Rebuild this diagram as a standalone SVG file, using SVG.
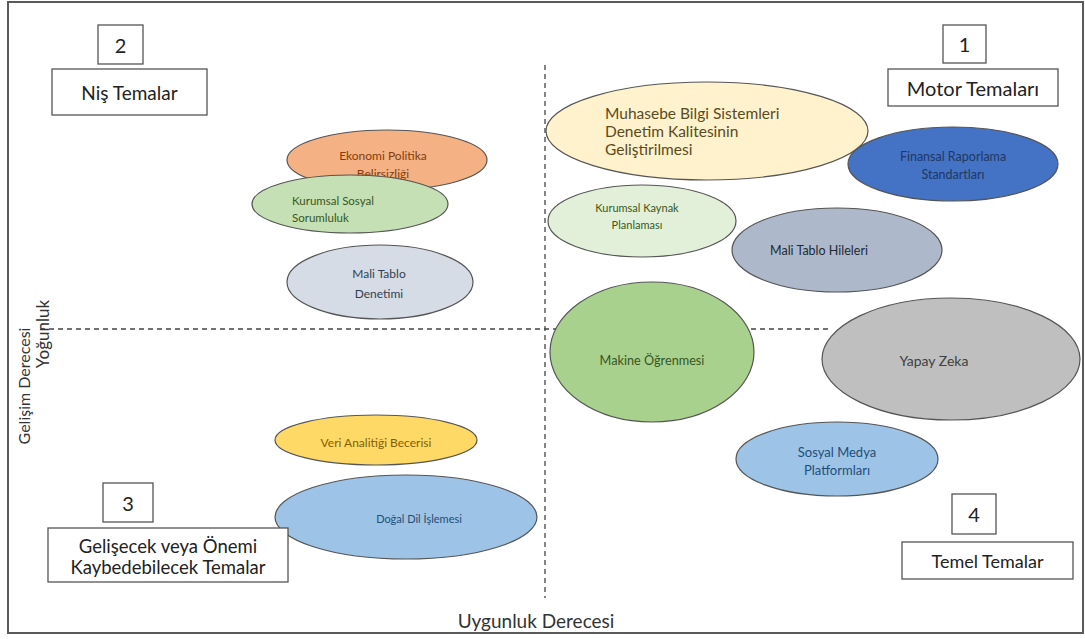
<svg xmlns="http://www.w3.org/2000/svg" width="1085" height="639" viewBox="0 0 1085 639">
<style>
.bg{fill:#ffffff}
.frame{fill:none;stroke:#5a5a5a;stroke-width:2}
.dash{fill:none;stroke:#444;stroke-width:1.3;stroke-dasharray:5 4}
.box{fill:#ffffff;stroke:#555;stroke-width:1.3}
.bt{font-family:Lato,"Liberation Sans",sans-serif;font-size:18.5px;fill:#222;text-anchor:middle;dominant-baseline:central}
.num{font-family:Lato,"Liberation Sans",sans-serif;font-size:20px;fill:#222;text-anchor:middle;dominant-baseline:central}
.el{stroke:#555;stroke-width:1.2}
.t{font-family:Lato,"Liberation Sans",sans-serif;font-size:12px;text-anchor:middle;dominant-baseline:central}
.l{text-anchor:start}
.ax{font-family:Lato,"Liberation Sans",sans-serif;font-size:16px;fill:#333;text-anchor:middle;dominant-baseline:central}
</style>
<rect class="bg" x="0" y="0" width="1085" height="639"/>
<rect class="frame" x="8" y="2" width="1075" height="631"/>
<g id="connectors">
<line class="dash" x1="545" y1="65" x2="545" y2="598"/>
<line class="dash" x1="40" y1="329" x2="830" y2="329"/>
</g>
<g id="q2">
<rect class="box" x="98" y="25" width="45" height="39"/>
<text class="num" x="120.5" y="45">2</text>
<rect class="box" x="52" y="69" width="155" height="46"/>
<text class="bt" x="129.5" y="92" style="font-size:19px">Niş Temalar</text>
</g>
<g id="q1">
<rect class="box" x="943" y="25" width="43" height="38"/>
<text class="num" x="964.5" y="44">1</text>
<rect class="box" x="888" y="69" width="170" height="37"/>
<text class="bt" x="973" y="88" style="font-size:20px">Motor Temaları</text>
</g>
<g id="q3">
<rect class="box" x="103" y="483" width="50" height="39"/>
<text class="num" x="128" y="503">3</text>
</g>
<g id="q4">
<rect class="box" x="952" y="494" width="44" height="40"/>
<text class="num" x="974" y="514">4</text>
<rect class="box" x="902" y="542" width="171" height="37"/>
<text class="bt" x="987.5" y="561" style="font-size:18px">Temel Temalar</text>
</g>
<g id="ekonomi">
<ellipse class="el" cx="387" cy="160" rx="100" ry="30" fill="#F4B183"/>
<text class="t" x="383" y="155" fill="#843C0C">Ekonomi Politika</text>
<text class="t" x="383" y="173" fill="#843C0C">Belirsizliği</text>
</g>
<g id="kurumsal-sosyal">
<ellipse class="el" cx="350" cy="204" rx="98" ry="29" fill="#C5E0B4"/>
<text class="t l" x="292" y="200" fill="#385723" style="font-size:11.5px">Kurumsal Sosyal</text>
<text class="t l" x="292" y="217" fill="#385723" style="font-size:11.5px">Sorumluluk</text>
</g>
<g id="mali-tablo-denetimi">
<ellipse class="el" cx="380" cy="282" rx="93" ry="37" fill="#D6DCE5"/>
<text class="t" x="379" y="273" fill="#333F50">Mali Tablo</text>
<text class="t" x="379" y="293" fill="#333F50">Denetimi</text>
</g>
<g id="muhasebe">
<ellipse class="el" cx="707" cy="131" rx="161" ry="49" fill="#FFF2CC"/>
<text class="t l" x="605" y="113" fill="#5A4A1E" style="font-size:15.5px">Muhasebe Bilgi Sistemleri</text>
<text class="t l" x="605" y="131" fill="#5A4A1E" style="font-size:15.5px">Denetim Kalitesinin</text>
<text class="t l" x="605" y="149" fill="#5A4A1E" style="font-size:15.5px">Geliştirilmesi</text>
</g>
<g id="finansal">
<ellipse class="el" cx="953" cy="164" rx="105" ry="37" fill="#4472C4"/>
<text class="t" x="953" y="156" fill="#1F3864" style="font-size:12.5px">Finansal Raporlama</text>
<text class="t" x="953" y="174" fill="#1F3864" style="font-size:12.5px">Standartları</text>
</g>
<g id="kurumsal-kaynak">
<ellipse class="el" cx="642" cy="221" rx="94" ry="36" fill="#E2F0D9"/>
<text class="t" x="637" y="207" fill="#385723" style="font-size:11px">Kurumsal Kaynak</text>
<text class="t" x="637" y="224" fill="#385723" style="font-size:11px">Planlaması</text>
</g>
<g id="mali-tablo-hileleri">
<ellipse class="el" cx="837" cy="250" rx="105" ry="42" fill="#ADB9CA"/>
<text class="t" x="819" y="250" fill="#222A35" style="font-size:12.5px">Mali Tablo Hileleri</text>
</g>
<g id="makine">
<ellipse class="el" cx="652" cy="352" rx="102" ry="70" fill="#A9D18E"/>
<text class="t" x="652" y="360" fill="#375623" style="font-size:12.7px">Makine Öğrenmesi</text>
</g>
<g id="yapay-zeka">
<ellipse class="el" cx="951" cy="359" rx="129" ry="61" fill="#BFBFBF"/>
<text class="t" x="934" y="360" fill="#404040" style="font-size:14px">Yapay Zeka</text>
</g>
<g id="sosyal-medya">
<ellipse class="el" cx="837" cy="459" rx="101" ry="37" fill="#9DC3E6"/>
<text class="t" x="837" y="452" fill="#1F4E79" style="font-size:13px">Sosyal Medya</text>
<text class="t" x="837" y="470" fill="#1F4E79" style="font-size:13px">Platformları</text>
</g>
<g id="veri-analitigi">
<ellipse class="el" cx="376" cy="440" rx="101" ry="25" fill="#FFD966"/>
<text class="t" x="376" y="442" fill="#7F6000">Veri Analitiği Becerisi</text>
</g>
<g id="dogal-dil">
<ellipse class="el" cx="406" cy="517" rx="131" ry="42" fill="#9DC3E6"/>
<text class="t" x="419" y="518" fill="#1F4E79" style="font-size:11px">Doğal Dil İşlemesi</text>
</g>
<g id="q3-label">
<rect class="box" x="48" y="528" width="240" height="54"/>
<text class="bt" x="168" y="546">Gelişecek veya Önemi</text>
<text class="bt" x="168" y="567">Kaybedebilecek Temalar</text>
</g>
<g id="axes">
<text class="ax" x="536" y="620" style="font-size:19px">Uygunluk Derecesi</text>
<text class="ax" transform="translate(23,386) rotate(-90)" x="0" y="0">Gelişim Derecesi</text>
<text class="ax" transform="translate(42,334) rotate(-90)" x="0" y="0" style="font-size:17px">Yoğunluk</text>
</g>
</svg>
